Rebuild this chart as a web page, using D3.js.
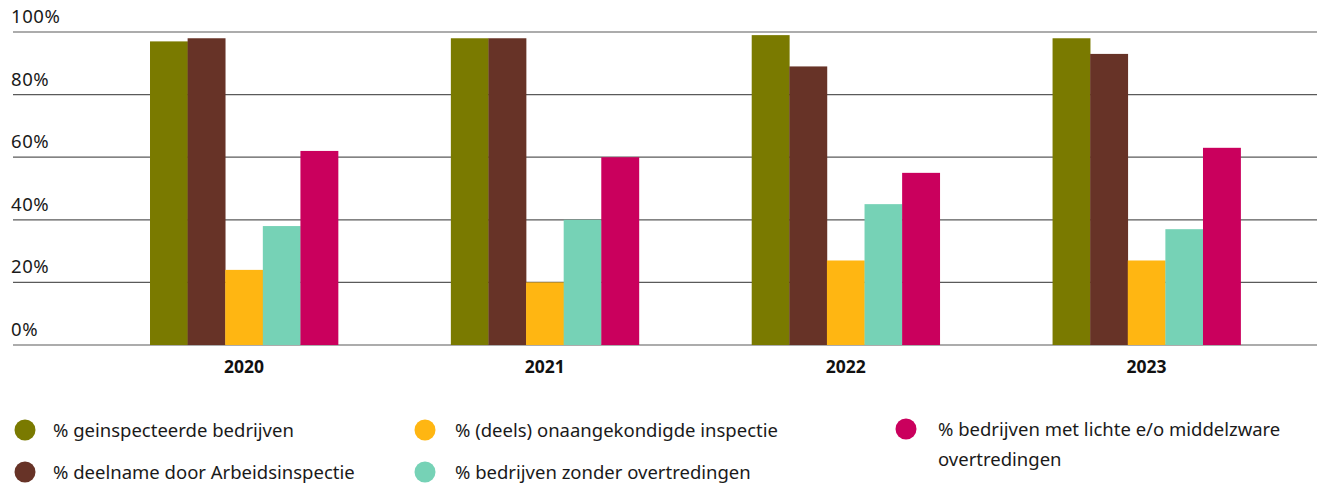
<!DOCTYPE html>
<html>
<head>
<meta charset="utf-8">
<script src="https://cdn.jsdelivr.net/npm/d3@7"></script>
<style>
body { margin: 0; background: #fff; }
svg { display: block; font-family: "Noto Sans", "Open Sans", sans-serif; }
</style>
</head>
<body>
<svg id="chart" width="1317" height="486"></svg>
<script>
var years = ['2020', '2021', '2022', '2023'];
var seriesKeys = ['geinsp', 'deelname', 'onaang', 'zonder', 'licht'];
var seriesLabels = [
  '% geinspecteerde bedrijven',
  '% deelname door Arbeidsinspectie',
  '% (deels) onaangekondigde inspectie',
  '% bedrijven zonder overtredingen',
  '% bedrijven met lichte e/o middelzware overtredingen'
];
var colors = ['#7a7a00', '#673327', '#ffb612', '#76d2b6', '#ca005d'];
var geinsp   = [97, 98, 99, 98];
var deelname = [98, 98, 89, 93];
var onaang   = [24, 20, 27, 27];
var zonder   = [38, 40, 45, 37];
var licht    = [62, 60, 55, 63];
var yTicks = [0, 20, 40, 60, 80, 100];

var values = [geinsp, deelname, onaang, zonder, licht];
var data = years.map(function(y, i) {
  return { year: y, vals: seriesKeys.map(function(k, j) { return { key: k, v: values[j][i] }; }) };
});

var svg = d3.select('#chart');

var x0 = d3.scaleBand()
  .domain(years)
  .range([93.6, 1297])
  .paddingInner(0.375)
  .paddingOuter(0.1875);

var x1 = d3.scaleBand()
  .domain(seriesKeys)
  .range([0, x0.bandwidth()]);

var y = d3.scaleLinear().domain([0, 100]).range([345, 32]);

var z = d3.scaleOrdinal().domain(seriesKeys).range(colors);

// gridlines
svg.append('g')
  .selectAll('line')
  .data(yTicks)
  .enter().append('line')
  .attr('x1', 13)
  .attr('x2', 1317)
  .attr('y1', function(d) { return y(d); })
  .attr('y2', function(d) { return y(d); })
  .attr('stroke', '#5a5a5a')
  .attr('stroke-width', 1.2);

// y labels
svg.append('g')
  .selectAll('text')
  .data(yTicks)
  .enter().append('text')
  .attr('x', 11)
  .attr('y', function(d) { return y(d) - 9; })
  .attr('font-size', 18.5)
  .attr('letter-spacing', 0.6)
  .attr('fill', '#1a1a1a')
  .text(function(d) { return d + '%'; });

// bars
svg.append('g')
  .selectAll('g')
  .data(data)
  .enter().append('g')
  .attr('transform', function(d) { return 'translate(' + x0(d.year) + ',0)'; })
  .selectAll('rect')
  .data(function(d) { return d.vals; })
  .enter().append('rect')
  .attr('x', function(d) { return x1(d.key); })
  .attr('width', x1.bandwidth() + 0.3)
  .attr('y', function(d) { return y(d.v); })
  .attr('height', function(d) { return y(0) - y(d.v); })
  .attr('fill', function(d) { return z(d.key); });

// x labels
svg.append('g')
  .selectAll('text')
  .data(years)
  .enter().append('text')
  .attr('x', function(d) { return x0(d) + x0.bandwidth() / 2; })
  .attr('y', 373)
  .attr('text-anchor', 'middle')
  .attr('font-size', 17.5)
  .attr('font-weight', 'bold')
  .attr('fill', '#111')
  .text(function(d) { return d; });

// legend
var legendPos = [
  { cx: 25, cy: 430, tx: 53 },
  { cx: 25, cy: 472, tx: 53 },
  { cx: 425, cy: 430, tx: 455 },
  { cx: 425, cy: 472, tx: 455 },
  { cx: 906, cy: 429, tx: 938 }
];
var legend = svg.append('g')
  .selectAll('g')
  .data(seriesKeys)
  .enter().append('g');

legend.append('circle')
  .attr('cx', function(d, i) { return legendPos[i].cx; })
  .attr('cy', function(d, i) { return legendPos[i].cy; })
  .attr('r', 10.5)
  .attr('fill', function(d) { return z(d); });

legend.append('text')
  .attr('x', function(d, i) { return legendPos[i].tx; })
  .attr('y', function(d, i) { return legendPos[i].cy + 6.5; })
  .attr('font-size', 18.5)
  .attr('fill', '#1a1a1a')
  .each(function(d, i) {
    var t = d3.select(this);
    if (i === 4) {
      t.append('tspan').attr('x', legendPos[i].tx).text('% bedrijven met lichte e/o middelzware');
      t.append('tspan').attr('x', legendPos[i].tx).attr('dy', 30).text('overtredingen');
    } else {
      t.text(seriesLabels[i]);
    }
  });
</script>
</body>
</html>
